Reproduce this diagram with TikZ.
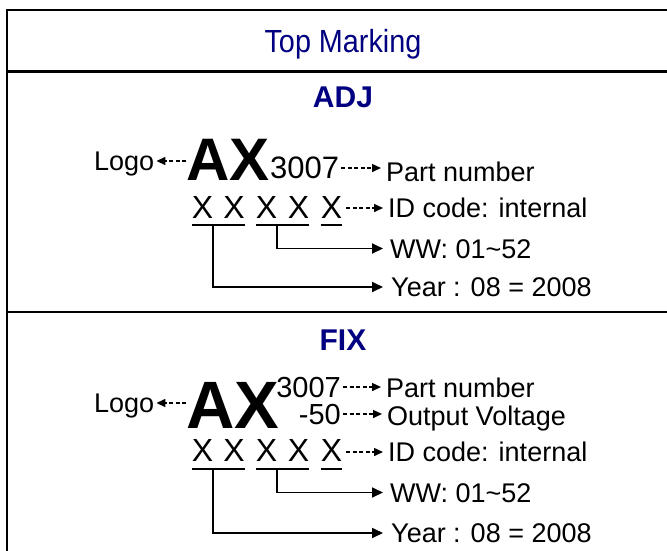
\documentclass[tikz,border=0pt]{standalone}
\usepackage{fontspec}
\setmainfont{Liberation Sans}
\usepackage{tikz}
\usetikzlibrary{arrows.meta}
\definecolor{navy}{RGB}{0,0,128}

\begin{document}
\begin{tikzpicture}[x=1pt, y=-1pt,
  border/.style={line width=2.5pt},
  hd/.style={inner sep=0pt, anchor=base, text=navy, font=\fontsize{30}{36}\selectfont\bfseries},
  txt/.style={inner sep=0pt, anchor=west, text height=19pt, text depth=0pt, font=\fontsize{27}{32}\selectfont},
  big/.style={inner sep=0pt, anchor=base west, font=\fontsize{60}{70}\selectfont\bfseries},
  xx/.style={inner sep=0pt, anchor=base, text height=23pt, text depth=0pt, font=\fontsize{32}{38}\selectfont},
  dotarr/.style={-{Triangle[length=9pt,width=8pt]}, line width=1.5pt, dash pattern=on 4pt off 2.5pt},
  conn/.style={-{Triangle[length=11pt,width=10pt]}, line width=1.8pt},
  uline/.style={line width=2pt}]
  \useasboundingbox (0,0) rectangle (667,550);

  \draw[border] (7,552) -- (7,10) -- (670,10);
  \draw[border] (7,71.5) -- (670,71.5);
  \draw[border] (7,312) -- (670,312);

  \node[hd, font=\fontsize{32}{38}\selectfont, xscale=0.9] (title) at (343,52) {Top Marking};

  % ADJ
  \node[hd] (A_title) at (343,107) {ADJ};
  \node[txt] (A_logo) at (94,161) {Logo};
  \node[big] (A_ax) at (186,180) {AX};
  \node[txt, font=\fontsize{31}{36}\selectfont, text height=21pt] (A_pn) at (270,168) {3007};
  \node[txt] (A_part) at (386,171.5) {Part number};
  \foreach \i/\x in {1/202.5, 2/234, 3/266.5, 4/298.5, 5/331.5}
    \node[xx] (A_x\i) at (\x,218) {X};
  \node[txt] (A_id) at (388,208) {ID code: internal};
  \node[txt] (A_ww) at (390,248.5) {WW: 01\textasciitilde 52};
  \node[txt] (A_year) at (391,287) {Year : 08 = 2008};

  \draw[dotarr, shorten >=2pt] (A_logo.east -| A_ax.west) -- (A_logo.east);
  \draw[dotarr, shorten <=2pt, shorten >=5pt] (A_pn.east) -- (A_pn.east -| A_part.west);
  \draw[dotarr, shorten <=4pt, shorten >=5pt] (A_x5.east |- A_id.west) -- (A_id.west);
  \draw[uline] ([yshift=-7pt]A_x1.south west) -- ([yshift=-7pt]A_x2.south east);
  \draw[uline] ([yshift=-7pt]A_x3.south west) -- ([yshift=-7pt]A_x4.south east);
  \draw[uline] ([yshift=-7pt]A_x5.south west) -- ([yshift=-7pt]A_x5.south east);
  \draw[conn, shorten >=7pt] ([yshift=-7pt]A_x3.south east) |- (A_ww.west);
  \draw[conn, shorten >=8pt] ([yshift=-7pt]A_x1.south east) |- (A_year.west);

  % FIX
  \node[hd] (F_title) at (343,350) {FIX};
  \node[txt] (F_logo) at (94,403) {Logo};
  \node[big, font=\fontsize{67}{78}\selectfont\bfseries] (F_ax) at (186,428) {AX};
  \node[txt, anchor=east, font=\fontsize{29}{34}\selectfont, text height=20pt] (F_pn) at (341,387) {3007};
  \node[txt, anchor=east, font=\fontsize{29}{34}\selectfont, text height=20pt] (F_volt) at (341,414) {-50};
  \node[txt] (F_part) at (386,387.5) {Part number};
  \node[txt] (F_out) at (387,415.5) {Output Voltage};
  \foreach \i/\x in {1/202.5, 2/234, 3/266.5, 4/298.5, 5/331.5}
    \node[xx] (F_x\i) at (\x,461.5) {X};
  \node[txt] (F_id) at (388,452) {ID code: internal};
  \node[txt] (F_ww) at (390,492.5) {WW: 01\textasciitilde 52};
  \node[txt] (F_year) at (391,533) {Year : 08 = 2008};

  \draw[dotarr, shorten >=2pt] (F_logo.east -| F_ax.west) -- (F_logo.east);
  \draw[dotarr, shorten <=2pt, shorten >=5pt] (F_pn.east) -- (F_pn.east -| F_part.west);
  \draw[dotarr, shorten <=2pt, shorten >=5pt] (F_volt.east) -- (F_volt.east -| F_out.west);
  \draw[dotarr, shorten <=4pt, shorten >=5pt] (F_x5.east |- F_id.west) -- (F_id.west);
  \draw[uline] ([yshift=-7pt]F_x1.south west) -- ([yshift=-7pt]F_x2.south east);
  \draw[uline] ([yshift=-7pt]F_x3.south west) -- ([yshift=-7pt]F_x4.south east);
  \draw[uline] ([yshift=-7pt]F_x5.south west) -- ([yshift=-7pt]F_x5.south east);
  \draw[conn, shorten >=7pt] ([yshift=-7pt]F_x3.south east) |- (F_ww.west);
  \draw[conn, shorten >=8pt] ([yshift=-7pt]F_x1.south east) |- (F_year.west);
\end{tikzpicture}
\end{document}
